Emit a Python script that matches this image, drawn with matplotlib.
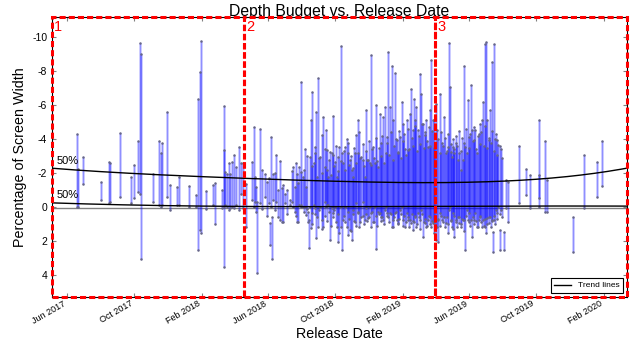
import numpy as np
import pandas as pd
import matplotlib
matplotlib.use("Agg")
import matplotlib.pyplot as plt
import matplotlib.dates as mdates
from matplotlib.patches import Rectangle

plt.rcParams["font.family"] = ["Liberation Sans", "DejaVu Sans"]
plt.rcParams["axes.unicode_minus"] = False

# release dates as days after 1 Jun 2017, depth range per title (% of screen width)
# negative = in front of screen, positive = behind screen
release_day = [
    19, 20, 30, 61, 77, 78, 97, 116, 122, 129, 133, 135, 157, 168, 170, 173, 182, 188, 200, 203,
    221, 234, 239, 242, 244, 252, 266, 269, 282, 285, 286, 288, 291, 294, 297, 300, 303, 308, 312, 316,
    320, 326, 337, 340, 341, 346, 350, 360, 367, 369, 370, 373, 375, 380, 384, 387, 390, 393, 396, 405,
    408, 411, 414, 418, 422, 425, 426, 429, 432, 434, 438, 440, 441, 443, 446, 449, 451, 453, 456, 460,
    463, 466, 469, 470, 473, 475, 478, 481, 484, 487, 490, 493, 495, 497, 500, 502, 505, 508, 511, 514,
    517, 520, 523, 526, 529, 531, 535, 538, 541, 544, 547, 550, 553, 556, 559, 562, 565, 568, 571, 575,
    578, 579, 582, 584, 587, 590, 593, 596, 599, 602, 605, 608, 611, 614, 617, 620, 623, 625, 628, 631,
    633, 635, 638, 641, 644, 647, 650, 653, 656, 659, 662, 665,
    666, 670, 672, 675, 678, 681, 685, 688, 692, 694, 696, 698, 700, 702, 704, 707, 710, 713, 716, 719,
    721, 723, 726, 728, 731, 734, 736, 739, 742, 745, 748, 751, 754, 756, 759, 761, 763, 766, 769, 772,
    774, 776, 779, 781, 784, 787, 789, 794, 797, 801, 822, 834, 842, 857, 858, 868, 872, 920, 940, 963, 972,
    344, 355, 363, 378, 400, 416, 420, 431, 436, 445, 450, 455, 458, 464, 468, 472, 476, 480, 483, 486,
    489, 492, 498, 503, 506, 510, 513, 516, 519, 522, 525, 528, 533, 537, 540, 543, 546, 549, 552, 555,
    558, 561, 564, 567, 570, 573, 576, 581, 586, 589, 592, 595, 598, 601, 604, 607, 610, 613, 616, 619,
    622, 626, 629, 632, 636, 639, 642, 645, 648, 651, 654, 657, 660, 664, 668,
    667, 674, 677, 680, 683, 687, 690, 693, 697, 701, 703, 706, 709, 712, 715, 718, 722, 725, 730, 733,
    737, 740, 743, 747, 750, 753, 757, 760, 764, 767, 770, 773, 775, 778, 782, 786, 790,
]
depth_near = [
    -4.33, -2.27, -2.96, -1.49, -2.67, -2.57, -4.39, -1.78, -2.47, -3.90, -9.67, -9.04, -1.94, -3.90, -3.16, -3.78, -5.63, -1.29, -1.20, -1.78,
    -1.25, -0.71, -6.39, -7.96, -9.82, -0.96, -1.29, -1.43, -1.00, -5.96, -3.35, -2.08, -1.98, -2.57, -1.98, -2.67, -3.06, -2.37, -3.55, -2.57,
    -2.57, -1.39, -2.67, -4.73, -1.78, -0.31, -4.63, -1.94, -1.69, 0.96, -4.14, 0.57, -1.98, -3.06, -1.00, -2.73, -1.10, -1.29, -0.80, -0.41,
    -2.14, -2.37, -1.20, -1.98, -2.37, -7.37, -2.08, -1.78, -3.45, -1.20, 0.27, 0.76, -2.96, -5.12, -6.78, -2.57, -3.55, -5.61, -7.63, -2.96,
    -4.24, -5.31, -2.37, -4.53, -3.35, -1.78, -3.25, -3.16, -5.35, -2.67, -1.78, -2.96, -3.55, -9.47, -3.16, -2.57, -3.55, -4.04, -3.16, -2.76,
    -2.18, -1.78, -3.16, -4.24, -5.16, -4.43, -2.96, -2.76, -1.78, -5.71, -2.76, -2.57, -8.94, -3.55, -2.57, -6.00, -2.37, -5.51, -3.75, -5.31,
    -5.90, -3.16, -4.14, -9.14, -5.90, -8.31, -5.12, -7.92, -3.94, -3.25, -4.14, -6.20, -4.92, -3.45, -5.12, -3.35, -5.51, -6.98, -4.53, -6.39,
    -5.12, -5.90, -4.53, -7.86, -6.69, -4.92, -4.24, -5.12, -3.55, -5.71, -8.65, -5.12,
    -5.12, -6.10, -4.53, 0.76, -6.69, -3.75, -5.31, -3.16, -3.55, -9.67, -7.08, -3.25, -2.96, -3.55, -3.16, -3.75, -2.76, -3.16, -2.18, -2.76,
    -8.29, -3.55, -3.16, -6.29, -4.14, -7.22, -4.53, -3.94, -4.53, -3.16, -4.33, -4.92, -5.12, -6.20, -9.63, -9.71, -5.12, -3.94, -5.71, -8.55,
    1.45, -9.59, -4.33, -3.94, -3.65, 1.35, -3.45, 1.45, -1.59, -1.49, -3.59, -2.24, -1.88, -5.16, -1.88, -3.90, -1.59, 0.57, -3.08, -2.67, -3.90,
    -1.2, -2.2, -1.5, -2.0, -1.0, -2.6, -1.4, -2.2, -3.0, -2.4, -3.2, -1.8, -2.9, -2.0, -3.4, -2.2, -2.8, -1.9, -3.1, -2.4,
    -3.6, -2.1, -2.7, -3.3, -2.2, -3.8, -2.5, -3.0, -2.3, -3.5, -2.6, -3.2, -2.9, -3.7, -2.4, -3.3, -2.8, -3.9, -2.5, -3.4,
    -2.9, -4.1, -2.7, -3.5, -3.0, -4.2, -2.6, -3.8, -3.1, -4.4, -2.8, -3.6, -4.0, -3.2, -4.5, -2.9, -3.9, -4.3, -3.1, -4.6,
    -3.4, -4.1, -3.6, -4.8, -3.3, -4.2, -3.7, -4.9, -3.5, -4.4, -3.9, -4.7, -3.6, -4.5, -3.8,
    -3.5, -4.0, -3.2, -4.4, -3.6, -4.1, -3.3, -4.3, -3.7, -4.0, -3.4, -4.2, -3.6, -4.5, -3.3, -4.1, -3.8, -4.6, -3.5, -4.3,
    -3.9, -4.7, -3.4, -4.2, -3.7, -4.4, -3.6, -4.8, -3.5, -4.1, -3.8, -4.5, -3.3, -4.0, -3.1, -3.6, -2.9,
]
depth_far = [
    0.02, 0.00, -1.39, -0.41, -0.22, -0.31, -0.57, -0.22, -0.51, -0.90, -0.80, 3.08, -0.31, -0.12, -0.02, -0.12, -0.61, 0.18, -0.12, -0.12,
    -0.02, -0.02, 2.53, 1.35, 1.55, 0.14, -0.12, 1.00, 0.08, 3.51, -0.02, -0.12, -0.02, 0.18, 0.08, -0.02, 0.08, -0.12, 0.18, -0.80,
    0.08, 1.16, -0.41, -0.02, -0.31, 3.90, -0.22, -0.61, -0.22, 2.24, -0.02, 3.08, -0.41, -0.31, 0.57, 0.76, 0.86, 0.86, -0.22, -0.12,
    -0.31, -0.02, 0.27, 0.86, -0.12, -0.12, -0.02, -0.02, -0.02, 0.47, 0.86, 2.43, -0.02, 1.25, 0.37, -0.12, 0.08, 1.84, 1.16, -0.02,
    0.76, 1.16, -0.31, -0.02, -0.12, -0.12, 1.94, 0.08, 0.37, -0.02, 1.16, 2.04, 1.55, -0.02, 2.53, 0.76, -0.02, 1.16, 1.65, 1.35,
    1.94, 0.18, 0.86, -0.22, 0.37, 1.16, 0.57, -0.31, 0.76, 0.08, 0.67, -0.02, 0.37, 0.86, -0.02, 2.49, 0.27, 0.37, 0.57, 0.76,
    0.18, -0.02, 0.37, 0.57, 0.37, 1.16, 0.76, 0.37, 0.76, 0.96, 0.18, -0.02, 0.76, 1.16, 0.37, 0.76, 0.76, 0.96, 1.35, 0.86,
    0.57, 1.16, 0.37, 0.76, 0.18, 1.75, 0.96, 1.16, 0.76, 0.57, 1.16, 0.96,
    1.55, 1.94, 1.16, 2.04, 0.37, 0.76, 0.57, 0.96, 1.55, 0.18, -0.02, 0.76, 1.16, 0.37, 1.75, 0.76, 0.57, 0.96, 1.16, 0.76,
    0.76, 2.53, 0.18, 0.76, 0.37, 0.76, 1.75, 0.76, 0.37, 1.16, 0.76, 0.57, 1.16, 0.76, 1.16, 1.55, 0.67, 0.96, 0.57, 0.76,
    2.63, 0.76, 0.18, 0.37, -0.02, 2.53, 0.18, 2.53, 0.08, 0.86, -0.22, -0.71, 0.08, -0.51, -0.02, 0.27, 0.27, 2.63, 0.08, -0.61, -1.24,
    0.3, 0.1, 0.5, 0.2, 0.4, 0.5, 0.9, 0.3, 0.1, 1.0, 0.4, 0.6, 0.2, 1.3, 0.5, 0.8, 0.3, 1.1, 0.6, 0.2,
    0.9, 0.4, 1.2, 0.5, 0.9, 0.3, 0.7, 1.4, 0.4, 0.8, 1.1, 0.3, 0.9, 0.5, 1.0, 0.4, 0.8, 0.6, 1.2, 0.3,
    0.9, 0.5, 1.1, 0.4, 0.8, 0.6, 1.0, 0.5, 0.9, 0.4, 1.2, 0.6, 0.3, 1.0, 0.7, 0.4, 1.1, 0.5, 0.9, 0.6,
    1.2, 0.4, 0.8, 0.5, 1.0, 0.6, 1.3, 0.4, 0.9, 0.7, 1.1, 0.5, 1.0, 0.8, 1.2,
    0.9, 0.7, 1.1, 0.5, 0.9, 1.2, 0.6, 1.0, 0.8, 1.3, 0.5, 0.9, 1.2, 0.6, 1.0, 0.7, 1.4, 0.5, 0.9, 1.1,
    0.6, 1.0, 0.8, 1.2, 0.5, 0.9, 1.1, 0.7, 1.0, 0.6, 1.2, 0.8, 0.5, 1.0, 0.7, 0.4, 0.6,
]

# 50% trend lines, read at a few dates (days after 1 Jun 2017)
trend_day = [-27, 100, 241, 450, 600, 732, 850, 930, 1017]
trend_upper = [-2.28, -2.05, -1.78, -1.53, -1.49, -1.48, -1.60, -1.88, -2.30]
trend_low_day = [-27, 241, 320, 500, 800, 1017]
trend_lower = [-0.25, -0.06, -0.03, -0.04, -0.05, -0.06]

base = pd.Timestamp("2017-06-01")
x_start = base + pd.Timedelta(days=-27)
x_end = base + pd.Timedelta(days=1017)

dates = base + pd.to_timedelta(release_day, unit="D")

fig, ax = plt.subplots(figsize=(6.35, 3.49), dpi=100)
fig.subplots_adjust(left=0.082, right=0.987, top=0.951, bottom=0.149)

# depth range bars
ax.vlines(dates, depth_near, depth_far, color="blue", alpha=0.22, lw=2.0, zorder=2)
ax.vlines(dates, depth_near, depth_far, color="blue", alpha=0.4, lw=0.5, zorder=2)
ax.plot(dates, depth_near, ".", color="#666688", ms=1.6, zorder=3)
ax.plot(dates, depth_far, ".", color="#666688", ms=1.6, zorder=3)

# trend lines
ax.axhline(0.06, color="gray", lw=1, zorder=1)
grid = np.linspace(-27, 1017, 300)
up = np.polyval(np.polyfit(trend_day, trend_upper, 4), grid)
lo = np.polyval(np.polyfit(trend_low_day, trend_lower, 3), grid)
grid_dates = base + pd.to_timedelta(grid, unit="D")
ax.plot(grid_dates, up, color="black", lw=1, zorder=4, label="Trend lines")
ax.plot(grid_dates, lo, color="black", lw=1, zorder=4)
ax.text(base + pd.Timedelta(days=-18), -2.42, "50%", fontsize=8, va="bottom")
ax.text(base + pd.Timedelta(days=-18), -0.42, "50%", fontsize=8, va="bottom")

ylim_bottom, ylim_top = 5.3, -11.2
ax.set_ylim(ylim_bottom, ylim_top)
ax.set_xlim(x_start, x_end)

# three release periods
x0 = mdates.date2num(x_start)
span = (mdates.date2num(x_end) - x0) / 3
for i in range(3):
    left = x0 + i * span
    ax.add_patch(Rectangle((left, ylim_bottom), span, ylim_top - ylim_bottom,
                           fill=False, edgecolor="red", lw=2.2, linestyle=(0, (2, 1)),
                           clip_on=False, zorder=5))
    ax.text(left + 4, ylim_top + 0.15, str(i + 1), color="red", fontsize=10.5,
            va="top", ha="left", zorder=6)

ax.set_yticks([-10, -8, -6, -4, -2, 0, 2, 4])
ax.xaxis.set_major_locator(mdates.MonthLocator(bymonth=[2, 6, 10]))
ax.xaxis.set_major_formatter(mdates.DateFormatter("%b %Y"))
ax.tick_params(direction="in", top=True, right=True, color="gray", length=3)
ax.tick_params(axis="x", labelsize=6.5, pad=1.5)
ax.tick_params(axis="y", labelsize=7.5)
plt.setp(ax.get_xticklabels(), rotation=30, ha="right")

ax.set_title("Depth Budget vs. Release Date", fontsize=11.3, pad=1)
ax.set_xlabel("Release Date", fontsize=10.3)
ax.set_ylabel("Percentage of Screen Width", fontsize=10.3)
ax.xaxis.set_label_coords(0.5, -0.108)

leg = ax.legend(loc="lower right", fontsize=6, fancybox=False, edgecolor="black",
                framealpha=1, borderaxespad=0.5, handlelength=2)
leg.get_frame().set_linewidth(0.8)

fig.savefig("out.png", dpi=100)
